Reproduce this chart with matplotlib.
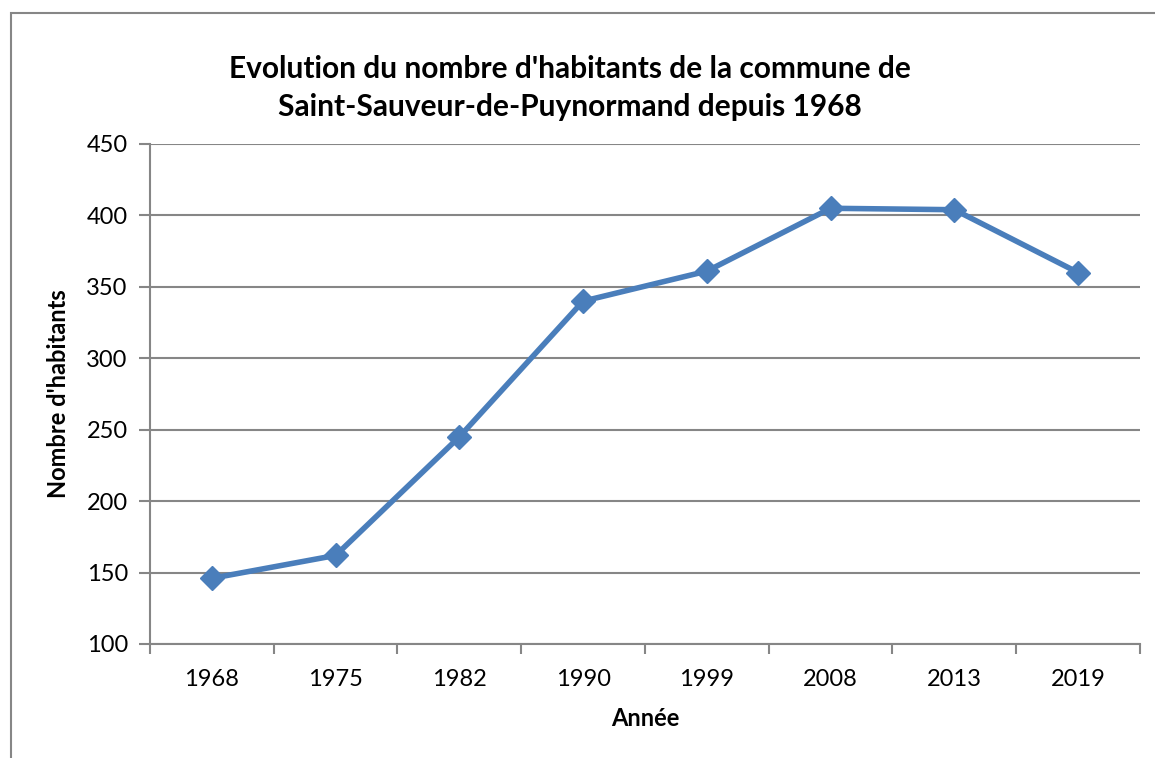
import matplotlib
matplotlib.use("Agg")
import matplotlib.pyplot as plt
from matplotlib.patches import Rectangle

years = ["1968", "1975", "1982", "1990", "1999", "2008", "2013", "2019"]
population = [146, 162, 245, 340, 361, 405, 404, 360]
y_ticks = [100, 150, 200, 250, 300, 350, 400, 450]

title = "Evolution du nombre d'habitants de la commune de\nSaint-Sauveur-de-Puynormand depuis 1968"
xlabel = "Année"
ylabel = "Nombre d'habitants"

W, H = 1155, 758
plt.rcParams['font.family'] = ['Lato', 'DejaVu Sans']
fig = plt.figure(figsize=(W / 100, H / 100), dpi=100)

# outer chart frame (continues beyond the right and bottom edges)
fig.patches.append(Rectangle((11 / W, -1), 2.0, 2 - 13 / H, transform=fig.transFigure,
                             fill=False, edgecolor="#868686", linewidth=1.5))

ax = fig.add_axes([150 / W, 1 - 644 / H, (1140 - 150) / W, (644 - 144) / H])
grid_c = "#868686"
x = list(range(len(years)))
ax.plot(x, population, color="#4A7EBB", linewidth=4.0, marker="D", markersize=12,
        markeredgecolor="#4A7EBB", zorder=3)

ax.set_xlim(-0.5, len(years) - 0.5)
ax.set_ylim(y_ticks[0], y_ticks[-1])
ax.set_yticks(y_ticks)
ax.set_yticklabels([str(v) for v in y_ticks], fontsize=17)
ax.yaxis.grid(True, color=grid_c, linewidth=1.5)
ax.set_axisbelow(True)

ax.set_xticks([i - 0.5 for i in range(len(years) + 1)])
ax.set_xticklabels([])
ax.set_xticks(x, minor=True)
ax.set_xticklabels(years, minor=True, fontsize=17)
ax.tick_params(axis="x", which="minor", length=0, pad=18)
ax.tick_params(axis="x", which="major", length=7, width=1.5, color=grid_c, direction="out")
ax.tick_params(axis="y", length=8, width=1.5, color=grid_c, direction="out", pad=8)

for s in ["top", "right"]:
    ax.spines[s].set_visible(False)
for s in ["left", "bottom"]:
    ax.spines[s].set_color(grid_c)
    ax.spines[s].set_linewidth(1.5)

ax.set_xlabel(xlabel, fontsize=17, fontweight="bold", labelpad=12)
ax.set_ylabel(ylabel, fontsize=17, fontweight="bold", labelpad=12)

fig.text(570 / W, 1 - 88 / H, title, ha="center", va="center", fontsize=21.5,
         fontweight="bold", linespacing=1.4)

fig.savefig("out.png", dpi=100)
